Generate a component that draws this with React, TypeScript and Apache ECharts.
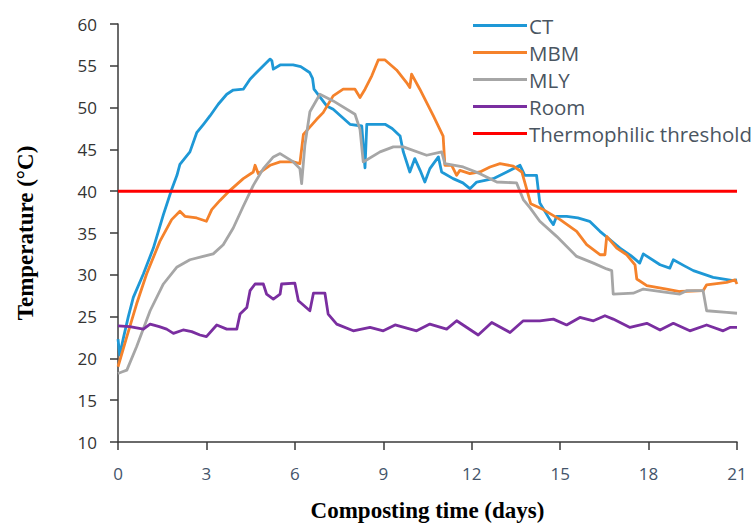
import React, { useEffect, useRef } from "react";
import * as echarts from "echarts";

const seriesNames = ["CT", "MBM", "MLY", "Room", "Thermophilic threshold"];
const xTicks = [0, 3, 6, 9, 12, 15, 18, 21];
const yTicks = [10, 15, 20, 25, 30, 35, 40, 45, 50, 55, 60];
const thresholdValue = 40;

const ctData = [
  [0, 22.3], [0.06, 20.4], [0.18, 22.4], [0.35, 25], [0.52, 27.3], [0.86, 30.1], [1.2, 33.2],
  [1.54, 37.2], [1.82, 40.2], [2.0, 41.9], [2.1, 43.2], [2.44, 44.7], [2.67, 47], [2.9, 48],
  [3.12, 49], [3.4, 50.4], [3.69, 51.6], [3.91, 52.1], [4.25, 52.2], [4.48, 53.4], [4.7, 54.2],
  [4.93, 55], [5.16, 55.8], [5.22, 55.6], [5.27, 54.6], [5.5, 55.1], [5.94, 55.1], [6.2, 54.9],
  [6.5, 54.2], [6.6, 53.5], [6.65, 52.2], [7.08, 50.2], [7.3, 49.8], [7.87, 48], [8.27, 47.8],
  [8.33, 45], [8.38, 42.8], [8.44, 48], [9.06, 48], [9.3, 47.5], [9.57, 46.6], [9.68, 44.7],
  [9.9, 42.3], [10.07, 43.9], [10.25, 42.5], [10.41, 41.1], [10.58, 42.7], [10.87, 44.1],
  [10.98, 42.3], [11.37, 41.5], [11.7, 41], [11.94, 40.3], [12.17, 41.1], [12.73, 41.5],
  [13.19, 42.3], [13.64, 43.1], [13.8, 41.9], [14.2, 41.9], [14.31, 38.6], [14.65, 36.6],
  [14.77, 36.0], [14.88, 37], [15.22, 37], [15.6, 36.8], [16.0, 36.4], [16.35, 35.2],
  [17.03, 33.2], [17.4, 32.3], [17.7, 31.4], [17.82, 32.5], [18.39, 31.2], [18.72, 30.8],
  [18.84, 31.8], [19.2, 31.1], [19.52, 30.5], [20.19, 29.7], [20.87, 29.3], [21, 29.4],
];

const mbmData = [
  [0, 19], [0.3, 22.6], [0.63, 26.5], [0.97, 30.1], [1.42, 34], [1.82, 36.6], [2.1, 37.6],
  [2.27, 37], [2.67, 36.8], [3.0, 36.4], [3.18, 37.8], [3.46, 38.9], [3.8, 40.1], [4.25, 41.5],
  [4.59, 42.3], [4.65, 43.1], [4.76, 42.1], [5.16, 43.1], [5.5, 43.5], [5.95, 43.5],
  [6.17, 43.3], [6.29, 46.8], [6.74, 48.6], [6.96, 49.4], [7.3, 51.4], [7.64, 52.2],
  [8.04, 52.2], [8.21, 51.2], [8.38, 52.2], [8.61, 53.8], [8.83, 55.7], [9.06, 55.7],
  [9.45, 54.5], [9.79, 53], [9.9, 52.4], [9.96, 54], [10.24, 52.2], [10.7, 49], [11.03, 46.6],
  [11.09, 43.1], [11.32, 43.1], [11.49, 41.9], [11.6, 42.5], [11.94, 42.1], [12.28, 42.3],
  [12.62, 42.9], [12.96, 43.3], [13.41, 43], [13.7, 42.3], [13.86, 40.3], [14.0, 38.5],
  [14.43, 37.8], [15.0, 36.6], [15.56, 35.2], [15.9, 33.6], [16.35, 32.4], [16.52, 32.4],
  [16.58, 34.6], [16.92, 33.2], [17.26, 32.4], [17.54, 31.2], [17.6, 29.5], [17.94, 28.7],
  [18.61, 28.3], [19.06, 28], [19.85, 28.1], [19.97, 28.8], [20.65, 29.1], [20.93, 29.4],
  [21, 28.9],
];

const mlyData = [
  [0, 18.2], [0.15, 18.4], [0.3, 18.6], [0.63, 21.4], [1.09, 25.7], [1.54, 28.9], [1.99, 30.9],
  [2.44, 31.8], [2.89, 32.2], [3.23, 32.5], [3.57, 33.6], [3.91, 35.6], [4.25, 38.2],
  [4.59, 40.7], [4.93, 42.7], [5.27, 44.1], [5.5, 44.5], [5.95, 43.5], [6.17, 42.7],
  [6.23, 40.9], [6.34, 45.5], [6.51, 49.5], [6.85, 51.6], [7.3, 50.8], [8.04, 49.2],
  [8.21, 47.4], [8.32, 43.5], [8.89, 44.7], [9.34, 45.3], [9.68, 45.3], [10.47, 44.3],
  [10.98, 44.7], [11.09, 43.3], [11.71, 42.9], [12.28, 42.1], [12.85, 41.1], [13.52, 41],
  [13.75, 39], [13.98, 38], [14.31, 36.4], [14.88, 34.6], [15.56, 32.2], [16.13, 31.4],
  [16.58, 30.7], [16.75, 30.5], [16.8, 27.7], [17.48, 27.8], [17.82, 28.3], [18.61, 27.9],
  [19.06, 27.7], [19.29, 28.1], [19.85, 28.1], [19.97, 25.7], [20.65, 25.5], [21, 25.4],
];

const roomData = [
  [0, 23.9], [0.4, 23.8], [0.86, 23.5], [1.09, 24.1], [1.4, 23.8], [1.65, 23.5], [1.88, 23],
  [2.21, 23.4], [2.5, 23.2], [2.78, 22.8], [3.0, 22.6], [3.35, 24], [3.69, 23.5], [4.03, 23.5],
  [4.14, 25.3], [4.37, 26.1], [4.48, 28.1], [4.65, 28.9], [4.93, 28.9], [5.04, 27.7],
  [5.27, 27.1], [5.5, 27.7], [5.55, 28.9], [6.0, 29], [6.12, 26.9], [6.51, 25.7], [6.63, 27.8],
  [7.02, 27.8], [7.13, 25.3], [7.42, 24.1], [7.98, 23.3], [8.55, 23.7], [9.0, 23.3], [9.4, 24],
  [10.13, 23.3], [10.58, 24.1], [11.15, 23.5], [11.49, 24.5], [12.22, 22.8], [12.68, 24.3],
  [13.3, 23.1], [13.75, 24.5], [14.31, 24.5], [14.77, 24.7], [15.22, 24], [15.67, 24.9],
  [16.13, 24.5], [16.52, 25.1], [16.8, 24.7], [17.37, 23.7], [17.94, 24.2], [18.39, 23.4],
  [18.84, 24.2], [19.4, 23.3], [19.97, 24], [20.53, 23.3], [20.76, 23.7], [21, 23.7],
];

const thresholdData = [
  [xTicks[0], thresholdValue],
  [xTicks[xTicks.length - 1], thresholdValue],
];

const colors = ["#1e98d6", "#f5822b", "#a6a6a6", "#7a2ea0", "#ff0000"];

export default function App() {
  const ref = useRef<HTMLDivElement>(null);

  useEffect(() => {
    if (!ref.current) return;
    const chart = echarts.init(ref.current, undefined, { renderer: "svg" });
    const datasets = [ctData, mbmData, mlyData, roomData, thresholdData];
    chart.setOption({
      animation: false,
      color: colors,
      grid: { left: 118, right: 18, top: 24, bottom: 80, containLabel: false },
      legend: {
        orient: "vertical",
        left: 468,
        top: 10,
        icon: "rect",
        itemWidth: 54,
        itemHeight: 3,
        itemGap: 6,
        data: seriesNames,
        textStyle: {
          fontFamily: "Open Sans",
          fontSize: 20.5,
          lineHeight: 20,
          color: "#4a5561",
          padding: [0, 0, 0, -3],
        },
      },
      xAxis: {
        type: "value",
        min: xTicks[0],
        max: xTicks[xTicks.length - 1],
        interval: 3,
        name: "Composting time (days)",
        nameLocation: "middle",
        nameGap: 57,
        nameTextStyle: {
          fontFamily: "Liberation Serif",
          fontWeight: "bold",
          fontSize: 23,
          color: "#000",
        },
        axisLine: { lineStyle: { color: "#3a3a3a", width: 1.5 } },
        axisTick: { show: true, inside: false, length: 8, lineStyle: { color: "#3a3a3a", width: 1.5 } },
        axisLabel: {
          margin: 23,
          fontFamily: "Open Sans",
          fontSize: 17,
          color: "#44546a",
        },
        splitLine: { show: false },
      },
      yAxis: {
        type: "value",
        min: yTicks[0],
        max: yTicks[yTicks.length - 1],
        interval: 5,
        name: "Temperature (°C)",
        nameLocation: "middle",
        nameRotate: 90,
        nameGap: 81,
        nameTextStyle: {
          fontFamily: "Liberation Serif",
          fontWeight: "bold",
          fontSize: 23,
          color: "#000",
        },
        axisLine: { show: true, lineStyle: { color: "#3a3a3a", width: 1.5 } },
        axisTick: { show: true, inside: false, length: 8, lineStyle: { color: "#3a3a3a", width: 1.5 } },
        axisLabel: {
          margin: 21,
          fontFamily: "Open Sans",
          fontSize: 17,
          color: "#333333",
        },
        splitLine: { show: false },
      },
      series: seriesNames.map((name, i) => ({
        name,
        type: "line",
        data: datasets[i],
        showSymbol: false,
        symbol: "none",
        lineStyle: { width: i === 4 ? 3 : 2.8, color: colors[i], join: "round" },
        z: 2 + i,
      })),
    });
    return () => chart.dispose();
  }, []);

  return (
    <div
      ref={ref}
      style={{ position: "fixed", left: 0, top: 0, width: 755, height: 527, background: "#fff" }}
    />
  );
}
